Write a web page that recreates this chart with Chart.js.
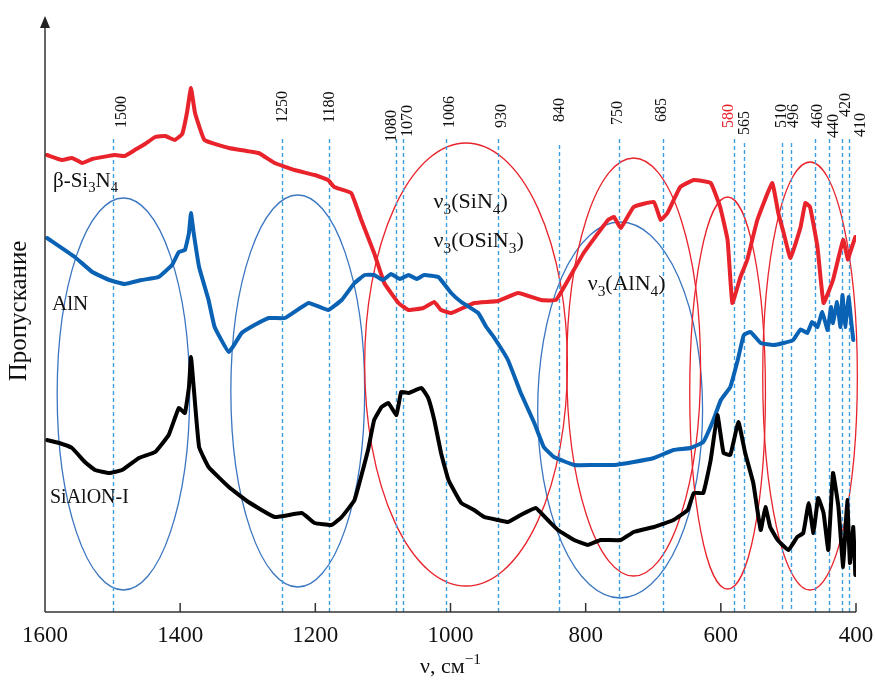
<!DOCTYPE html>
<html>
<head>
<meta charset="utf-8">
<script src="https://cdn.jsdelivr.net/npm/chart.js@4"></script>
<style>
  body { margin: 0; background: #fff; }
  canvas { display: block; }
</style>
</head>
<body>
<canvas id="chart" width="875" height="680" style="width:875px;height:680px"></canvas>
<script>
// wavenumber (cm-1) and transmittance (arb. units)
const siNWn = [1597, 1575, 1560, 1545, 1530, 1497, 1482, 1467, 1452, 1437, 1422, 1408, 1397, 1390, 1384, 1378, 1364, 1328, 1284, 1260, 1231, 1201, 1181, 1172, 1147, 1132, 1113, 1098, 1077, 1062, 1040, 1024, 1014, 999, 965, 930, 900, 866, 844, 826, 803, 767, 758, 748, 729, 699, 689, 679, 660, 640, 615, 601, 590, 583, 571, 561, 546, 524, 515, 507, 497, 482, 475, 468, 457, 448, 434, 419, 412, 409, 401];
const siNT = [91.4, 90.4, 90.8, 89.8, 90.6, 91.4, 91.2, 92.4, 93.6, 95, 95.2, 94.4, 95.6, 99.8, 104.8, 99.8, 94.4, 92.8, 91.8, 89.8, 88.4, 87.4, 86.4, 85, 83.8, 78.4, 71.8, 65.8, 61.8, 60.4, 60.8, 62, 60.4, 59.8, 61.8, 62.2, 63.8, 62.4, 62.4, 66.4, 71.8, 78.4, 79, 76.8, 81, 82, 78.4, 79.8, 85, 86.4, 85.8, 81, 74.4, 61.8, 67, 70.4, 78.4, 85.8, 79.8, 75.8, 70.8, 77, 81.8, 81, 73, 61.8, 66.4, 74.4, 70.5, 71.8, 75];

const alnWn = [1597, 1556, 1530, 1505, 1482, 1457, 1432, 1412, 1402, 1393, 1387, 1384, 1380, 1372, 1358, 1349, 1328, 1309, 1290, 1269, 1245, 1210, 1181, 1161, 1142, 1127, 1113, 1100, 1088, 1075, 1062, 1050, 1039, 1018, 999, 984, 959, 947, 936, 915, 896, 876, 862, 847, 817, 788, 758, 729, 699, 670, 645, 626, 611, 600, 586, 575, 566, 556, 541, 522, 507, 493, 482, 472, 465, 457, 450, 442, 437, 434, 428, 423, 420, 416, 411, 407, 404];
const alnT = [74.8, 71, 68, 66.4, 65.6, 66.4, 67, 69.4, 72, 72.4, 75.8, 79.8, 75.8, 69, 62.4, 57, 52, 55.8, 57.4, 58.8, 58.8, 61.8, 60.4, 62.4, 65.8, 67.4, 67.4, 66.4, 67.6, 66.6, 67.4, 66.6, 67.4, 67, 63.8, 62, 59.8, 57, 55, 50.4, 43.8, 37.8, 33, 31, 29.4, 29.4, 29.4, 30, 30.8, 32.4, 32.8, 34, 38.4, 42.4, 45, 50.4, 55.4, 56, 53.8, 53.4, 53.8, 54.4, 56.5, 55.8, 58, 57, 60, 56.4, 61, 57.8, 62, 57, 63.4, 57, 63, 58, 54.4];

const sialonWn = [1597, 1579, 1560, 1541, 1526, 1505, 1486, 1461, 1437, 1417, 1402, 1393, 1387, 1384, 1380, 1372, 1358, 1328, 1299, 1260, 1220, 1201, 1176, 1161, 1142, 1122, 1113, 1102, 1092, 1080, 1073, 1062, 1043, 1033, 1024, 1014, 1003, 984, 965, 950, 930, 915, 896, 874, 856, 841, 817, 797, 778, 748, 729, 699, 670, 649, 640, 626, 615, 605, 596, 586, 574, 564, 552, 541, 534, 527, 516, 500, 487, 478, 470, 463, 456, 448, 441, 434, 426, 419, 413, 409, 404, 401];
const sialonT = [34.4, 33.8, 32.8, 30, 28.4, 27.8, 28.4, 30.8, 32, 35.4, 40.8, 39.8, 45, 51, 45, 33, 29, 25, 22, 19, 19.8, 17.8, 17.4, 19, 22.4, 32.4, 38.4, 41, 41.8, 39.4, 44, 43.8, 44.8, 42.8, 38.4, 31.8, 26.4, 21.8, 20.4, 19, 18.4, 18, 19.4, 20.8, 18.4, 16.4, 14.4, 13.4, 14.4, 14.4, 16, 17, 18.4, 20.4, 23.8, 23.8, 30.4, 39.4, 31.8, 31.4, 38, 31.8, 25.8, 16.4, 21, 17, 14.4, 12.4, 15, 15.8, 21.8, 15.8, 22.8, 19.8, 12.4, 27.8, 21, 9, 22.4, 9.8, 17, 7.4];

const xTicks = [1600, 1400, 1200, 1000, 800, 600, 400];
const bandWn = [1500, 1250, 1180, 1080, 1070, 1006, 930, 840, 750, 685, 580, 565, 510, 496, 460, 440, 420, 410];

// ellipses: [centre wn, half width wn, top T, bottom T]
const blueRings = [[1484, 98, 82.8, 4.4], [1226, 99, 83.4, 5], [749, 122, 78, 2.8]];
const redRings = [[977, 150, 93.8, 5.2], [729, 99, 90.8, 7.2], [590, 56, 83, 4.6], [468, 70, 90, 4.4]];

const seriesNames = ['β-Si_3N_4', 'AlN', 'SiAlON-I'];
const modeNames = ['ν_3(SiN_4)', 'ν_3(OSiN_3)', 'ν_3(AlN_4)'];
const xTitle = 'ν, см^−^1';
const yTitle = 'Пропускание';

const SERIF = '"Liberation Serif", "Times New Roman", serif';
const RED = '#e8232b';
const BLUE = '#0a62b4';

function pts(xs, ys) {
    return xs.map((v, i) => ({ x: v, y: ys[i] }));
}

// '_' = subscript next char, '^' = superscript next char
function richText(ctx, str, x, y, size, color) {
    let cx = x;
    ctx.fillStyle = color;
    ctx.textAlign = 'left';
    ctx.textBaseline = 'alphabetic';
    for (let i = 0; i < str.length; i++) {
        let ch = str[i];
        let dy = 0;
        let s = size;
        if (ch === '_' || ch === '^') {
            dy = ch === '_' ? size * 0.25 : -size * 0.4;
            s = size * 0.7;
            ch = str[++i];
        }
        ctx.font = s + 'px ' + SERIF;
        ctx.fillText(ch, cx, y + dy);
        cx += ctx.measureText(ch).width;
    }
    return cx - x;
}

function richWidth(ctx, str, size) {
    let w = 0;
    for (let i = 0; i < str.length; i++) {
        let ch = str[i];
        let s = size;
        if (ch === '_' || ch === '^') { s = size * 0.7; ch = str[++i]; }
        ctx.font = s + 'px ' + SERIF;
        w += ctx.measureText(ch).width;
    }
    return w;
}

const overlay = {
    id: 'overlay',
    beforeDatasetsDraw(chart) {
        const { ctx, scales: { x, y } } = chart;
        ctx.save();

        // ellipses
        const drawRing = (r, color) => {
            const cx = x.getPixelForValue(r[0]);
            const rx = Math.abs(x.getPixelForValue(r[0] - r[1]) - cx);
            const cy = y.getPixelForValue((r[2] + r[3]) / 2);
            const ry = Math.abs(y.getPixelForValue(r[2]) - cy);
            ctx.beginPath();
            ctx.ellipse(cx, cy, rx, ry, 0, 0, Math.PI * 2);
            ctx.strokeStyle = color;
            ctx.lineWidth = 1.3;
            ctx.stroke();
        };
        blueRings.forEach(r => drawRing(r, '#3a76c0'));
        redRings.forEach(r => drawRing(r, RED));

        // dashed band lines and their labels
        const labelBottom = { 1080: 142, 1070: 137, 565: 135, 440: 138, 410: 137, 420: 117, 840: 122, 685: 122, 1250: 123, 1180: 123, 750: 125 };
        const labelShift = { 1500: 8, 1080: -5, 1070: 4, 1006: 3, 930: 3, 750: -2, 685: -2, 580: -6, 510: -1, 496: 2, 460: 2, 440: 4, 420: 3, 410: 11 };
        const lineTop = { 840: 145, 565: 143, 510: 143, 496: 143 };
        bandWn.forEach(w => {
            const px = Math.round(x.getPixelForValue(w)) + 0.5;
            ctx.beginPath();
            ctx.setLineDash([4, 3]);
            ctx.strokeStyle = '#3d9ee2';
            ctx.lineWidth = 1.4;
            ctx.moveTo(px, lineTop[w] || 139);
            ctx.lineTo(px, y.bottom);
            ctx.stroke();
            ctx.setLineDash([]);

            ctx.save();
            ctx.translate(px + (labelShift[w] || 0), labelBottom[w] || 128);
            ctx.rotate(-Math.PI / 2);
            ctx.font = '16px ' + SERIF;
            ctx.fillStyle = w === 580 ? RED : '#111';
            ctx.textAlign = 'left';
            ctx.textBaseline = 'middle';
            ctx.fillText(String(w), 0, 0);
            ctx.restore();
        });
        ctx.restore();
    },
    afterDraw(chart) {
        const { ctx, chartArea: a, scales: { x, y } } = chart;
        ctx.save();
        ctx.strokeStyle = '#333';
        ctx.fillStyle = '#222';
        ctx.lineWidth = 1.5;

        // y axis with arrow
        ctx.beginPath();
        ctx.moveTo(a.left, a.bottom);
        ctx.lineTo(a.left, a.top + 10);
        ctx.stroke();
        ctx.beginPath();
        ctx.moveTo(a.left, a.top);
        ctx.lineTo(a.left - 5, a.top + 12);
        ctx.lineTo(a.left + 5, a.top + 12);
        ctx.closePath();
        ctx.fill();

        // x axis with inward ticks
        ctx.beginPath();
        ctx.moveTo(a.left, a.bottom);
        ctx.lineTo(a.right, a.bottom);
        ctx.stroke();
        ctx.font = '23px ' + SERIF;
        ctx.textAlign = 'center';
        ctx.textBaseline = 'alphabetic';
        ctx.fillStyle = '#111';
        xTicks.forEach(t => {
            const px = x.getPixelForValue(t);
            if (t !== 1600) {
                ctx.beginPath();
                ctx.moveTo(px, a.bottom);
                ctx.lineTo(px, a.bottom - 9);
                ctx.stroke();
            }
            ctx.fillText(String(t), px, a.bottom + 30);
        });

        // axis titles
        const tw = richWidth(ctx, xTitle, 22);
        richText(ctx, xTitle, x.getPixelForValue(1000) - tw / 2, 673, 22, '#111');

        ctx.save();
        ctx.translate(26, 311);
        ctx.rotate(-Math.PI / 2);
        ctx.font = '25px ' + SERIF;
        ctx.textAlign = 'center';
        ctx.textBaseline = 'alphabetic';
        ctx.fillStyle = '#111';
        ctx.fillText(yTitle, 0, 0);
        ctx.restore();

        // curve names and mode labels
        richText(ctx, seriesNames[0], 53, 187, 21, '#111');
        richText(ctx, seriesNames[1], 52, 310, 21, '#111');
        richText(ctx, seriesNames[2], 50, 503, 20, '#111');
        richText(ctx, modeNames[0], x.getPixelForValue(1025), 208, 22, '#111');
        richText(ctx, modeNames[1], x.getPixelForValue(1025), 247, 22, '#111');
        richText(ctx, modeNames[2], x.getPixelForValue(797), 290, 22, '#111');
        ctx.restore();
    }
};

const ctx = document.getElementById('chart').getContext('2d');
new Chart(ctx, {
    type: 'line',
    data: {
        datasets: [
            { label: 'SiAlON-I', data: pts(sialonWn, sialonT), borderColor: '#000', borderWidth: 4 },
            { label: 'AlN', data: pts(alnWn, alnT), borderColor: BLUE, borderWidth: 4 },
            { label: 'β-Si3N4', data: pts(siNWn, siNT), borderColor: RED, borderWidth: 4 }
        ]
    },
    options: {
        responsive: false,
        animation: false,
        devicePixelRatio: 1,
        layout: { padding: { left: 45, right: 19, top: 16, bottom: 68 } },
        elements: {
            point: { radius: 0 },
            line: { tension: 0.1, borderJoinStyle: 'round', borderCapStyle: 'round' }
        },
        scales: {
            x: { type: 'linear', min: 400, max: 1600, reverse: true, display: false },
            y: { min: 0, max: 119.2, display: false }
        },
        plugins: {
            legend: { display: false },
            tooltip: { enabled: false }
        }
    },
    plugins: [overlay]
});
</script>
</body>
</html>
